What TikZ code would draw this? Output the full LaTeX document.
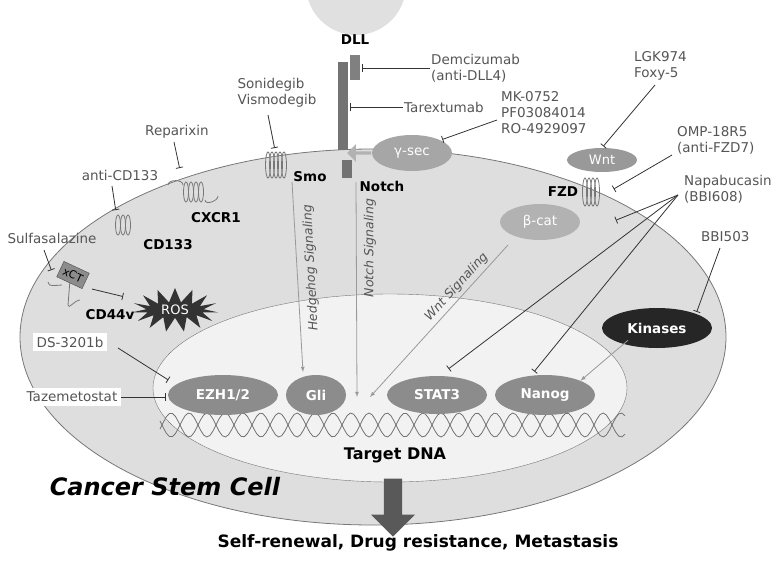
\documentclass[tikz,border=0pt]{standalone}
\usepackage{fontspec}
\setmainfont{DejaVu Sans}
\usetikzlibrary{arrows, calc, shapes, shapes.geometric, shapes.arrows, shapes.symbols}
\definecolor{memb}{HTML}{777777}
\definecolor{drug}{HTML}{555555}
\begin{document}
\begin{tikzpicture}[
  x=1pt, y=-1pt,
  every node/.style={font=\fontsize{13.5}{16}\selectfont},
  drug/.style={color=drug, align=left, inner sep=1pt},
  lbl/.style={font=\fontsize{13.5}{15}\selectfont\bfseries, inner sep=1pt},
  prot/.style={ellipse, fill=black!45, text=white, font=\fontsize{13.5}{15}\selectfont\bfseries, inner sep=0pt},
  inhib/.style={thick, black!80, -|, shorten >=2pt},
  signal/.style={thick, black!40, -latex},
  sigtext/.style={color=drug, font=\fontsize{12.5}{14}\selectfont\itshape},
  coil/.style={thick, memb},
]
%general params
\def\coilw{2.5}

%frame
\useasboundingbox (0,0) rectangle (782,560);

%cells
\fill[black!12] (356,-15) circle (50);
\fill[black!13, draw=memb, thick] (373,337) ellipse (353 and 188);
\fill[black!5, draw=memb, thin] (390,388) ellipse (237 and 94);

%DNA
\draw[thick, black!55, domain=160:625, samples=150] plot (\x, {425+12*sin(\x*10)});
\draw[thick, black!55, domain=160:625, samples=150] plot (\x, {425-12*sin(\x*10)});

%notch and dll
\node[lbl] (dll) at (355,40) {DLL};
\fill[black!50] (350,55) rectangle (360,80);
\fill[black!55] (338,62) rectangle (348,150);
\fill[black!55] (342,160) rectangle (352,178);
\coordinate (notchtop) at (348,107);
\coordinate (dlltop) at (360,70);
\node[lbl] (notch) at (382,186) {Notch};
\node[prot, minimum width=80pt, minimum height=36pt, fill=black!35, font=\fontsize{13.5}{15}\selectfont] (gsec) at (412,153) {γ-sec};
\node[single arrow, fill=black!30, minimum height=24pt, inner sep=1.5pt, shape border rotate=180] (garrow) at (360,153) {};

%receptors
\foreach \i in {0,...,4} \draw[coil] (268+\i*4,165) ellipse (\coilw pt and 13pt);
\node[lbl] (smo) at (310,177) {Smo};
\foreach \i in {0,...,3} \draw[coil] (186+\i*5,192) ellipse (\coilw pt and 10pt);
\draw[coil] (168,185) to[out=90,in=90] (183,185);
\draw[coil] (205,200) to[out=-90,in=-90] (218,196);
\node[lbl] (cxcr) at (216,218) {CXCR1};
\foreach \i in {0,...,2} \draw[coil] (118+\i*5,225) ellipse (\coilw pt and 10pt);
\node[lbl] (cd) at (168,245) {CD133};
\foreach \i in {0,...,3} \draw[coil] (585+\i*4,192) ellipse (\coilw pt and 14pt);
\node[lbl] (fzd) at (563,192) {FZD};
\node[prot, minimum width=70pt, minimum height=24pt, fill=black!40, font=\fontsize{13}{15}\selectfont] (wnt) at (602,160) {Wnt};

%xct and ros
\draw[coil] (48,282) to[out=-90,in=180] (62,285);
\draw[coil] (70,280) -- (68,305) to[out=-90,in=180] (80,300);
\node[draw=black!70, fill=black!45, rotate=-25, minimum width=28pt, minimum height=17pt, inner sep=1pt] (xct) at (73,275) {\fontsize{11}{12}\selectfont xCT};
\node[lbl] (cd44) at (110,315) {CD44v};
\node[starburst, starburst points=15, random starburst=0, fill=black!80, text=white, minimum width=86pt, minimum height=44pt, inner sep=0pt, font=\fontsize{13}{15}\selectfont] (ros) at (175,310) {ROS};

%inner proteins
\node[prot, minimum width=80pt, minimum height=36pt, fill=black!30, font=\fontsize{13.5}{15}\selectfont] (bcat) at (540,222) {β-cat};
\node[prot, minimum width=110pt, minimum height=40pt, fill=black!85] (kin) at (657,328) {Kinases};
\node[prot, minimum width=110pt, minimum height=40pt] (ezh) at (223,395) {EZH1/2};
\node[prot, minimum width=60pt, minimum height=40pt] (gli) at (316,395) {Gli};
\node[prot, minimum width=100pt, minimum height=38pt] (stat) at (437,395) {STAT3};
\node[prot, minimum width=100pt, minimum height=40pt] (nanog) at (545,395) {Nanog};

%signaling
\draw[signal] (292,182) -- (303,372);
\node[sigtext, rotate=93] (hhtext) at (311,268) {Hedgehog Signaling};
\draw[signal] (356,182) -- (357,397);
\node[sigtext, rotate=90] (ntext) at (370,248) {Notch Signaling};
\draw[signal] (508,245) -- (370,397) node[sigtext, pos=.32, sloped, above] (wtext) {Wnt Signaling};
\draw[signal] (kin.south west) ++(10,-2) -- (nanog.north east);

%drugs
\node[drug, anchor=west] (dem) at (430,68) {Demcizumab\\(anti-DLL4)};
\draw[inhib] (dem.west) -- (dlltop |- dem.west);
\node[drug, anchor=west] (tar) at (403,107) {Tarextumab};
\draw[inhib] (tar.west) -- (notchtop |- tar.west);
\node[drug, anchor=west] (mk) at (500,113) {MK-0752\\PF03084014\\RO-4929097};
\draw[inhib] (497,120) -- (gsec.north east);
\node[drug, anchor=west] (lgk) at (633,66) {LGK974\\Foxy-5};
\draw[inhib] (655,85) -- (wnt.north);
\node[drug, anchor=west] (omp) at (676,140) {OMP-18R5\\(anti-FZD7)};
\draw[inhib] (672,155) -- (612,190);
\node[drug, anchor=west] (napa) at (683,189) {Napabucasin\\(BBI608)};
\coordinate (nf) at (678,195);
\draw[inhib] (nf) -- (614,221);
\draw[inhib] (nf) -- (447,370);
\draw[inhib] (nf) -- (533,373);
\node[drug, anchor=west] (bbi) at (700,237) {BBI503};
\draw[inhib] (720,248) -- (kin.north east);
\node[drug] (soni) at (277,93) {Sonidegib\\Vismodegib};
\draw[inhib] (268,115) -- (275,150);
\node[drug] (rep) at (177,132) {Reparixin};
\draw[inhib] (174,142) -- (180,170);
\node[drug] (acd) at (120,175) {anti-CD133};
\draw[inhib] (112,186) -- (116,212);
\node[drug] (sulfa) at (52,238) {Sulfasalazine};
\draw[inhib] (44,250) -- (52,272);
\draw[inhib] (xct.east) ++(6,8) -- (125,297);
\node[drug, fill=white, inner sep=4pt] (ds) at (70,342) {DS-3201b};
\draw[inhib] (118,348) -- (170,381);
\node[drug, fill=white, inner sep=4pt] (taz) at (72,397) {Tazemetostat};
\draw[inhib] (taz.east) -- (ezh.west |- taz.east);

%bottom
\node[lbl, font=\fontsize{16}{18}\selectfont\bfseries] (target) at (395,455) {Target DNA};
\node[font=\fontsize{24}{26}\selectfont\bfseries\itshape] (csc) at (165,487) {Cancer Stem Cell};
\node[single arrow, fill=black!65, rotate=-90, minimum height=58pt, minimum width=44pt, single arrow head extend=6pt, inner sep=4pt] (out) at (393,503) {};
\node[lbl, font=\fontsize{17}{19}\selectfont\bfseries] (result) at (418,543) {Self-renewal, Drug resistance, Metastasis};
\end{tikzpicture}
\end{document}
